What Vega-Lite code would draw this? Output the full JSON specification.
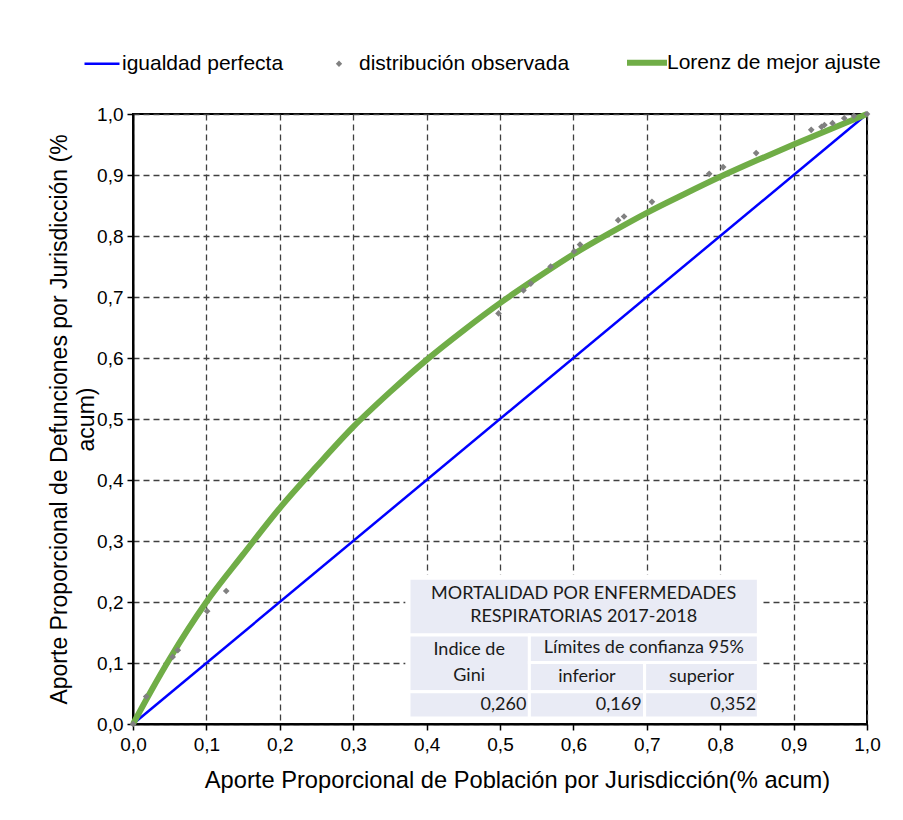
{
  "$schema": "https://vega.github.io/schema/vega-lite/v6.json",
  "width": 734,
  "height": 610,
  "autosize": {"type": "none"},
  "padding": {"left": 133, "top": 114, "right": 36, "bottom": 96},
  "background": "#ffffff",
  "config": {
    "font": "Liberation Sans",
    "view": {"stroke": "#000000", "strokeWidth": 2},
    "axis": {
      "labelFont": "Liberation Sans",
      "titleFont": "Liberation Sans",
      "labelFontSize": 19,
      "titleFontSize": 23,
      "labelColor": "#000000",
      "titleColor": "#000000",
      "titleFontWeight": "normal",
      "domainColor": "#000000",
      "domainWidth": 2,
      "tickColor": "#000000",
      "tickWidth": 1.5,
      "tickSize": 6,
      "gridColor": "#404040",
      "gridDash": [6, 4],
      "gridWidth": 1.3,
      "gridOpacity": 1
    },
    "legend": {
      "labelFont": "Liberation Sans",
      "labelFontSize": 21,
      "labelColor": "#000000",
      "labelLimit": 0,
      "padding": 0
    }
  },
  "datasets": {
    "igualdad": [
      {"x": 0, "y": 0, "serie": "igualdad perfecta"},
      {"x": 1, "y": 1, "serie": "igualdad perfecta"}
    ],
    "lorenz": [
      {"x": 0, "y": 0, "serie": "Lorenz de mejor ajuste"},
      {"x": 0.025, "y": 0.055, "serie": "Lorenz de mejor ajuste"},
      {"x": 0.05, "y": 0.107, "serie": "Lorenz de mejor ajuste"},
      {"x": 0.1, "y": 0.2, "serie": "Lorenz de mejor ajuste"},
      {"x": 0.15, "y": 0.278, "serie": "Lorenz de mejor ajuste"},
      {"x": 0.2, "y": 0.354, "serie": "Lorenz de mejor ajuste"},
      {"x": 0.25, "y": 0.422, "serie": "Lorenz de mejor ajuste"},
      {"x": 0.3, "y": 0.487, "serie": "Lorenz de mejor ajuste"},
      {"x": 0.35, "y": 0.544, "serie": "Lorenz de mejor ajuste"},
      {"x": 0.4, "y": 0.597, "serie": "Lorenz de mejor ajuste"},
      {"x": 0.45, "y": 0.645, "serie": "Lorenz de mejor ajuste"},
      {"x": 0.5, "y": 0.69, "serie": "Lorenz de mejor ajuste"},
      {"x": 0.55, "y": 0.731, "serie": "Lorenz de mejor ajuste"},
      {"x": 0.6, "y": 0.77, "serie": "Lorenz de mejor ajuste"},
      {"x": 0.65, "y": 0.805, "serie": "Lorenz de mejor ajuste"},
      {"x": 0.7, "y": 0.838, "serie": "Lorenz de mejor ajuste"},
      {"x": 0.75, "y": 0.868, "serie": "Lorenz de mejor ajuste"},
      {"x": 0.8, "y": 0.897, "serie": "Lorenz de mejor ajuste"},
      {"x": 0.85, "y": 0.924, "serie": "Lorenz de mejor ajuste"},
      {"x": 0.9, "y": 0.95, "serie": "Lorenz de mejor ajuste"},
      {"x": 0.95, "y": 0.975, "serie": "Lorenz de mejor ajuste"},
      {"x": 1, "y": 1, "serie": "Lorenz de mejor ajuste"}
    ],
    "observada": [
      {"x": 0, "y": 0, "serie": "distribución observada"},
      {"x": 0.018, "y": 0.045, "serie": "distribución observada"},
      {"x": 0.054, "y": 0.11, "serie": "distribución observada"},
      {"x": 0.061, "y": 0.121, "serie": "distribución observada"},
      {"x": 0.101, "y": 0.185, "serie": "distribución observada"},
      {"x": 0.127, "y": 0.218, "serie": "distribución observada"},
      {"x": 0.498, "y": 0.673, "serie": "distribución observada"},
      {"x": 0.532, "y": 0.711, "serie": "distribución observada"},
      {"x": 0.542, "y": 0.722, "serie": "distribución observada"},
      {"x": 0.569, "y": 0.75, "serie": "distribución observada"},
      {"x": 0.601, "y": 0.775, "serie": "distribución observada"},
      {"x": 0.609, "y": 0.786, "serie": "distribución observada"},
      {"x": 0.661, "y": 0.826, "serie": "distribución observada"},
      {"x": 0.669, "y": 0.832, "serie": "distribución observada"},
      {"x": 0.707, "y": 0.856, "serie": "distribución observada"},
      {"x": 0.785, "y": 0.902, "serie": "distribución observada"},
      {"x": 0.804, "y": 0.913, "serie": "distribución observada"},
      {"x": 0.849, "y": 0.936, "serie": "distribución observada"},
      {"x": 0.924, "y": 0.974, "serie": "distribución observada"},
      {"x": 0.938, "y": 0.979, "serie": "distribución observada"},
      {"x": 0.942, "y": 0.982, "serie": "distribución observada"},
      {"x": 0.953, "y": 0.985, "serie": "distribución observada"},
      {"x": 0.969, "y": 0.993, "serie": "distribución observada"},
      {"x": 0.982, "y": 0.997, "serie": "distribución observada"},
      {"x": 1, "y": 1, "serie": "distribución observada"}
    ],
    "tablaFondo": [
      {"x0": 0.371, "x1": 0.857, "y0": 0.004, "y1": 0.245}
    ],
    "celdas": [
      {"x0": 0.376, "x1": 0.852, "y0": 0.146, "y1": 0.239},
      {"x0": 0.376, "x1": 0.540, "y0": 0.053, "y1": 0.146},
      {"x0": 0.540, "x1": 0.852, "y0": 0.101, "y1": 0.146},
      {"x0": 0.540, "x1": 0.697, "y0": 0.053, "y1": 0.101},
      {"x0": 0.697, "x1": 0.852, "y0": 0.053, "y1": 0.101},
      {"x0": 0.376, "x1": 0.540, "y0": 0.010, "y1": 0.053},
      {"x0": 0.540, "x1": 0.697, "y0": 0.010, "y1": 0.053},
      {"x0": 0.697, "x1": 0.852, "y0": 0.010, "y1": 0.053}
    ],
    "encabezados": [
      {"x": 0.614, "y": 0.213, "t": "MORTALIDAD POR ENFERMEDADES"},
      {"x": 0.614, "y": 0.175, "t": "RESPIRATORIAS 2017-2018"},
      {"x": 0.458, "y": 0.121, "t": "Indice de"},
      {"x": 0.458, "y": 0.078, "t": "Gini"},
      {"x": 0.696, "y": 0.124, "t": "Límites de confianza 95%"},
      {"x": 0.6185, "y": 0.077, "t": "inferior"},
      {"x": 0.7745, "y": 0.077, "t": "superior"}
    ],
    "valores": [
      {"x": 0.536, "y": 0.031, "t": "0,260"},
      {"x": 0.693, "y": 0.031, "t": "0,169"},
      {"x": 0.849, "y": 0.031, "t": "0,352"}
    ]
  },
  "layer": [
    {
      "data": {"name": "igualdad"},
      "mark": {"type": "line", "strokeWidth": 2.5},
      "encoding": {
        "x": {
          "field": "x", "type": "quantitative",
          "scale": {"domain": [0, 1], "nice": false, "zero": false},
          "axis": {
            "values": [0, 0.1, 0.2, 0.3, 0.4, 0.5, 0.6, 0.7, 0.8, 0.9, 1],
            "labelExpr": "replace(format(datum.value, '.1f'), '.', ',')",
            "labelPadding": 5,
            "labelFlush": false,
            "title": "Aporte Proporcional de Población por Jurisdicción(% acum)",
            "titleFontSize": 23.7,
            "titleX": 384,
            "titlePadding": 14
          }
        },
        "y": {
          "field": "y", "type": "quantitative",
          "scale": {"domain": [0, 1], "nice": false, "zero": false},
          "axis": {
            "values": [0, 0.1, 0.2, 0.3, 0.4, 0.5, 0.6, 0.7, 0.8, 0.9, 1],
            "labelExpr": "replace(format(datum.value, '.1f'), '.', ',')",
            "labelPadding": 4,
            "labelFlush": false,
            "title": ["Aporte Proporcional de Defunciones por Jurisdicción (%", "acum)"],
            "titleLineHeight": 27,
            "titlePadding": -2
          }
        },
        "color": {
          "field": "serie", "type": "nominal",
          "scale": {
            "domain": ["igualdad perfecta", "distribución observada", "Lorenz de mejor ajuste"],
            "range": ["#0000FF", "#808080", "#70AD47"]
          },
          "legend": {
            "title": null,
            "orient": "none",
            "direction": "horizontal",
            "legendX": -41.5,
            "legendY": -62,
            "symbolType": "stroke",
            "symbolSize": 400,
            "symbolStrokeWidth": 3,
            "labelOffset": 9.5,
            "columnPadding": 45,
            "encode": {
              "symbols": {
                "update": {
                  "shape": {"signal": "datum.value === 'distribución observada' ? 'diamond' : 'stroke'"},
                  "size": {"signal": "datum.value === 'distribución observada' ? 40 : (datum.value === 'igualdad perfecta' ? 1225 : 1600)"},
                  "strokeWidth": {"signal": "datum.value === 'distribución observada' ? 0 : (datum.value === 'igualdad perfecta' ? 2.5 : 6)"},
                  "fill": {"signal": "datum.value === 'distribución observada' ? '#808080' : 'transparent'"},
                  "stroke": {"signal": "datum.value === 'igualdad perfecta' ? '#0000FF' : (datum.value === 'distribución observada' ? '#808080' : '#70AD47')"},
                  "opacity": {"value": 1}
                }
              }
            }
          }
        }
      }
    },
    {
      "data": {"name": "lorenz"},
      "mark": {"type": "line", "strokeWidth": 6, "interpolate": "monotone"},
      "encoding": {
        "x": {"field": "x", "type": "quantitative"},
        "y": {"field": "y", "type": "quantitative"},
        "color": {"field": "serie", "type": "nominal"}
      }
    },
    {
      "data": {"name": "observada"},
      "mark": {"type": "point", "shape": "diamond", "filled": true, "size": 45, "opacity": 1},
      "encoding": {
        "x": {"field": "x", "type": "quantitative"},
        "y": {"field": "y", "type": "quantitative"},
        "color": {"field": "serie", "type": "nominal"}
      }
    },
    {
      "data": {"name": "tablaFondo"},
      "mark": {"type": "rect", "fill": "#ffffff"},
      "encoding": {
        "x": {"field": "x0", "type": "quantitative"},
        "x2": {"field": "x1"},
        "y": {"field": "y0", "type": "quantitative"},
        "y2": {"field": "y1"}
      }
    },
    {
      "data": {"name": "celdas"},
      "mark": {"type": "rect", "fill": "#E9EBF5", "stroke": "#ffffff", "strokeWidth": 3},
      "encoding": {
        "x": {"field": "x0", "type": "quantitative"},
        "x2": {"field": "x1"},
        "y": {"field": "y0", "type": "quantitative"},
        "y2": {"field": "y1"}
      }
    },
    {
      "data": {"name": "encabezados"},
      "mark": {"type": "text", "font": "Lato", "fontSize": 18, "color": "#1a1a1a", "align": "center", "baseline": "middle"},
      "encoding": {
        "x": {"field": "x", "type": "quantitative"},
        "y": {"field": "y", "type": "quantitative"},
        "text": {"field": "t"}
      }
    },
    {
      "data": {"name": "valores"},
      "mark": {"type": "text", "font": "Lato", "fontSize": 18, "color": "#1a1a1a", "align": "right", "baseline": "middle"},
      "encoding": {
        "x": {"field": "x", "type": "quantitative"},
        "y": {"field": "y", "type": "quantitative"},
        "text": {"field": "t"}
      }
    }
  ]
}
